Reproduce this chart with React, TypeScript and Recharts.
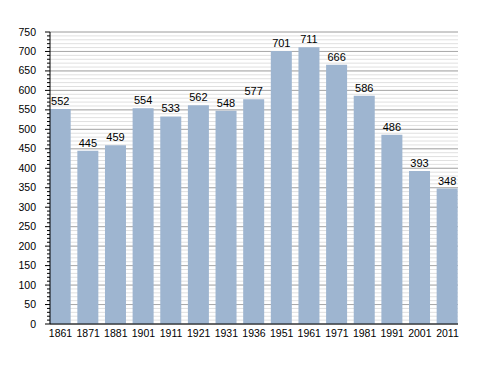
import React from "react";
import { BarChart, Bar, XAxis, YAxis, CartesianGrid, LabelList } from "recharts";

const years = ["1861", "1871", "1881", "1901", "1911", "1921", "1931", "1936", "1951", "1961", "1971", "1981", "1991", "2001", "2011"];
const population = [552, 445, 459, 554, 533, 562, 548, 577, 701, 711, 666, 586, 486, 393, 348];
const minorTicks = Array.from({ length: 76 }, (_, i) => i * 10);
const majorTicks = [0, 50, 100, 150, 200, 250, 300, 350, 400, 450, 500, 550, 600, 650, 700, 750];

const data = years.map((year, i) => ({ year, value: population[i] }));

const font = "'Liberation Sans', Arial, sans-serif";

function YTick(props: any) {
  const { x, y, payload } = props;
  const major = payload.value % 50 === 0;
  return (
    <g>
      <line x1={x - (major ? 5 : 3)} x2={x} y1={y} y2={y} stroke="#000" strokeWidth={1} />
      {major && (
        <text x={x - 14} y={y} dy={3.5} textAnchor="end" fontSize={10.5} fill="#000" fontFamily={font}>
          {payload.value}
        </text>
      )}
    </g>
  );
}

export default function App() {
  return (
    <div style={{ position: "absolute", left: 0, top: 0, background: "#fff" }}>
      <BarChart
        width={488}
        height={373}
        data={data}
        margin={{ top: 32, right: 30, bottom: 29, left: 0 }}
      >
        <CartesianGrid vertical={false} horizontalValues={minorTicks} stroke="#e0e0e0" />
        <CartesianGrid vertical={false} horizontalValues={majorTicks} stroke="#aaaaaa" />
        <XAxis
          dataKey="year"
          height={20}
          padding={{ left: -3.3, right: -3.3 }}
          tickLine={false}
          tickSize={4}
          axisLine={{ stroke: "#000" }}
          tick={{ fontSize: 10.5, fill: "#000", fontFamily: font }}
          interval={0}
        />
        <YAxis
          width={50}
          domain={[0, 750]}
          ticks={minorTicks}
          interval={0}
          tickLine={false}
          tickSize={0}
          tickMargin={0}
          axisLine={{ stroke: "#000" }}
          tick={<YTick />}
        />
        <Bar dataKey="value" fill="#9eb5d0" barSize={21} isAnimationActive={false}>
          <LabelList dataKey="value" position="top" offset={4} fontSize={11} fill="#000" fontFamily={font} />
        </Bar>
      </BarChart>
    </div>
  );
}
